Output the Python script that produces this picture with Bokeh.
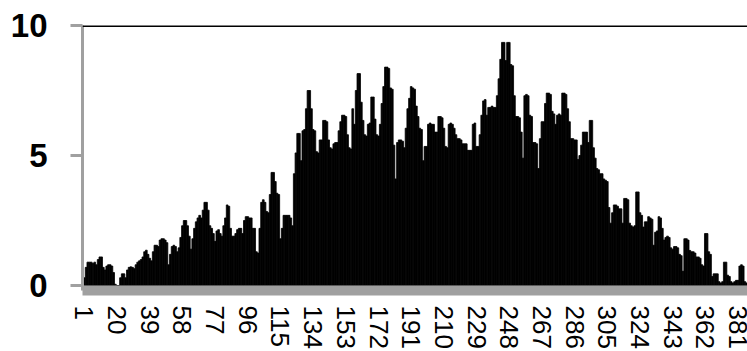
from bokeh.plotting import figure
from bokeh.models import Range1d, FixedTicker, Span
from bokeh.embed import file_html
from bokeh.resources import INLINE

# Estimated bar heights, one per category (1..386)
bar_values = [
    0.3, 0.7, 0.9, 0.9, 0.9, 0.85, 0.9, 0.8, 1.0, 1.1,
    1.1, 0.7, 0.6, 0.75, 0.8, 0.8, 0.75, 0.5, 0.05, 0.0,
    0.0, 0.3, 0.45, 0.45, 0.3, 0.6, 0.7, 0.72, 0.7, 0.65,
    0.8, 0.9, 0.95, 1.0, 1.1, 1.3, 1.36, 1.2, 1.05, 0.95,
    1.3, 1.55, 1.55, 1.5, 1.75, 1.8, 1.8, 1.75, 1.65, 0.8,
    1.2, 1.5, 1.55, 1.5, 1.3, 1.45, 1.85, 2.3, 2.5, 2.5,
    2.3, 1.9, 1.4, 1.8, 2.2, 2.45, 2.6, 2.7, 2.6, 2.9,
    3.2, 3.2, 2.9, 2.3, 2.2, 2.0, 1.7, 2.1, 2.15, 2.0,
    1.9, 2.3, 2.6, 3.1, 3.05, 2.2, 1.9, 1.9, 2.0, 2.15,
    2.2, 2.2, 2.0, 2.5, 2.65, 2.65, 2.6, 2.6, 2.2, 2.2,
    1.3, 1.25, 2.2, 3.2, 3.3, 3.2, 2.85, 2.8, 3.5, 4.35,
    4.35, 4.0, 3.55, 3.5, 1.8, 2.2, 2.7, 2.7, 2.7, 2.7,
    2.6, 2.3, 4.3, 5.1, 5.85, 5.85, 4.8, 5.95, 6.0, 6.8,
    7.5, 7.5, 6.8, 6.0, 5.95, 5.15, 5.1, 5.6, 5.6, 6.35,
    6.35, 6.3, 5.6, 5.3, 5.25, 5.45, 5.5, 5.5, 5.95, 6.3,
    6.55, 6.55, 6.5, 5.8, 5.3, 5.25, 6.8, 6.2, 7.5, 8.15,
    8.15, 7.05, 6.35, 5.8, 5.75, 6.2, 6.25, 7.25, 7.25, 6.4,
    5.8, 5.75, 6.2, 7.0, 7.65, 8.4, 8.4, 8.35, 7.6, 7.55,
    5.4, 4.1, 5.5, 5.6, 5.6, 5.55, 5.3, 6.05, 6.8, 7.2,
    7.65, 7.6, 7.55, 6.9, 6.5, 6.05, 6.0, 4.8, 5.35, 5.35,
    6.2, 6.25, 6.2, 6.2, 5.9, 5.9, 6.5, 6.5, 6.45, 6.05,
    5.35, 5.3, 6.2, 6.25, 6.2, 6.05, 5.8, 5.65, 5.65, 5.6,
    5.45, 5.45, 5.45, 5.2, 5.2, 5.2, 6.2, 6.25, 5.35, 5.35,
    5.8, 6.55, 7.1, 7.15, 6.55, 6.85, 6.85, 6.9, 6.85, 6.85,
    7.3, 7.95, 8.7, 9.35, 9.35, 8.65, 9.35, 9.35, 8.5, 8.45,
    7.3, 6.5, 6.5, 6.45, 5.9, 4.9, 7.3, 7.35, 7.3, 6.55,
    6.5, 5.5, 5.5, 5.45, 4.5, 5.65, 6.3, 6.3, 7.0, 7.4,
    7.4, 7.35, 6.7, 6.6, 6.2, 6.55, 6.6, 6.55, 7.4, 7.4,
    7.35, 6.8, 6.3, 5.65, 5.65, 5.6, 5.6, 4.85, 5.0, 5.4,
    5.9, 5.9, 5.9, 5.5, 6.35, 6.35, 5.3, 4.9, 4.5, 4.45,
    4.3, 4.3, 4.1, 4.05, 4.0, 3.0, 2.4, 2.8, 3.1, 3.1,
    3.05, 2.95, 2.95, 2.4, 3.35, 3.35, 3.3, 2.4, 2.3, 2.25,
    2.3, 3.6, 3.6, 2.8, 2.7, 2.25, 2.45, 2.45, 2.65, 2.6,
    2.55, 1.55, 2.05, 2.1, 2.65, 2.6, 2.2, 1.75, 1.85, 1.9,
    1.85, 1.45, 1.4, 1.5, 1.5, 1.45, 1.2, 1.15, 0.55, 1.8,
    1.8, 1.75, 1.35, 1.3, 1.3, 1.25, 1.1, 1.1, 1.05, 0.8,
    0.75, 2.0, 2.0, 1.3, 1.2, 0.35, 0.45, 0.45, 0.45, 0.15,
    0.1, 0.15, 0.9, 0.9, 0.4, 0.35, 0.15, 0.1, 0.15, 0.2,
    0.2, 0.75, 0.8, 0.75, 0.15, 0.1,
]
bar_ids = list(range(1, len(bar_values) + 1))

x_ticks = [1, 20, 39, 58, 77, 96, 115, 134, 153, 172, 191, 210, 229,
           248, 267, 286, 305, 324, 343, 362, 381]
y_ticks = [0, 5, 10]

AXIS_GRAY = "#a0a0a0"
FONT = "Liberation Sans"

p = figure(width=747, height=351, output_backend="svg", toolbar_location=None,
           x_range=Range1d(-0.1, 386.5), y_range=Range1d(-0.19, 10),
           min_border_left=82, min_border_right=0, min_border_top=25,
           min_border_bottom=60)
p.background_fill_color = "white"
p.border_fill_color = "white"
p.outline_line_color = None
p.grid.visible = False

p.vbar(x=bar_ids, top=bar_values, bottom=0, width=1.0,
       fill_color="black", line_color="black", line_width=0.8)

p.add_layout(Span(location=10, dimension="width", line_color="black",
                  line_width=3))

# y axis
p.yaxis.ticker = FixedTicker(ticks=y_ticks)
p.yaxis.axis_line_color = AXIS_GRAY
p.yaxis.axis_line_width = 3
p.yaxis.major_tick_line_color = AXIS_GRAY
p.yaxis.major_tick_line_width = 3
p.yaxis.major_tick_out = 12
p.yaxis.major_tick_in = 0
p.yaxis.minor_tick_line_color = None
p.yaxis.major_label_text_font = FONT
p.yaxis.major_label_text_font_size = "33px"
p.yaxis.major_label_text_font_style = "bold"
p.yaxis.major_label_text_color = "black"
p.yaxis.major_label_standoff = 23

# x axis
p.xaxis.ticker = FixedTicker(ticks=x_ticks)
p.xaxis.axis_line_color = AXIS_GRAY
p.xaxis.axis_line_width = 10
p.xaxis.major_tick_line_color = None
p.xaxis.major_tick_out = 0
p.xaxis.major_tick_in = 0
p.xaxis.minor_tick_line_color = None
p.xaxis.major_label_orientation = "vertical"
p.xaxis.major_label_text_font = FONT
p.xaxis.major_label_text_font_size = "26px"
p.xaxis.major_label_text_color = "black"
p.xaxis.major_label_standoff = 15

open("out.html", "w").write(file_html(p, INLINE))
